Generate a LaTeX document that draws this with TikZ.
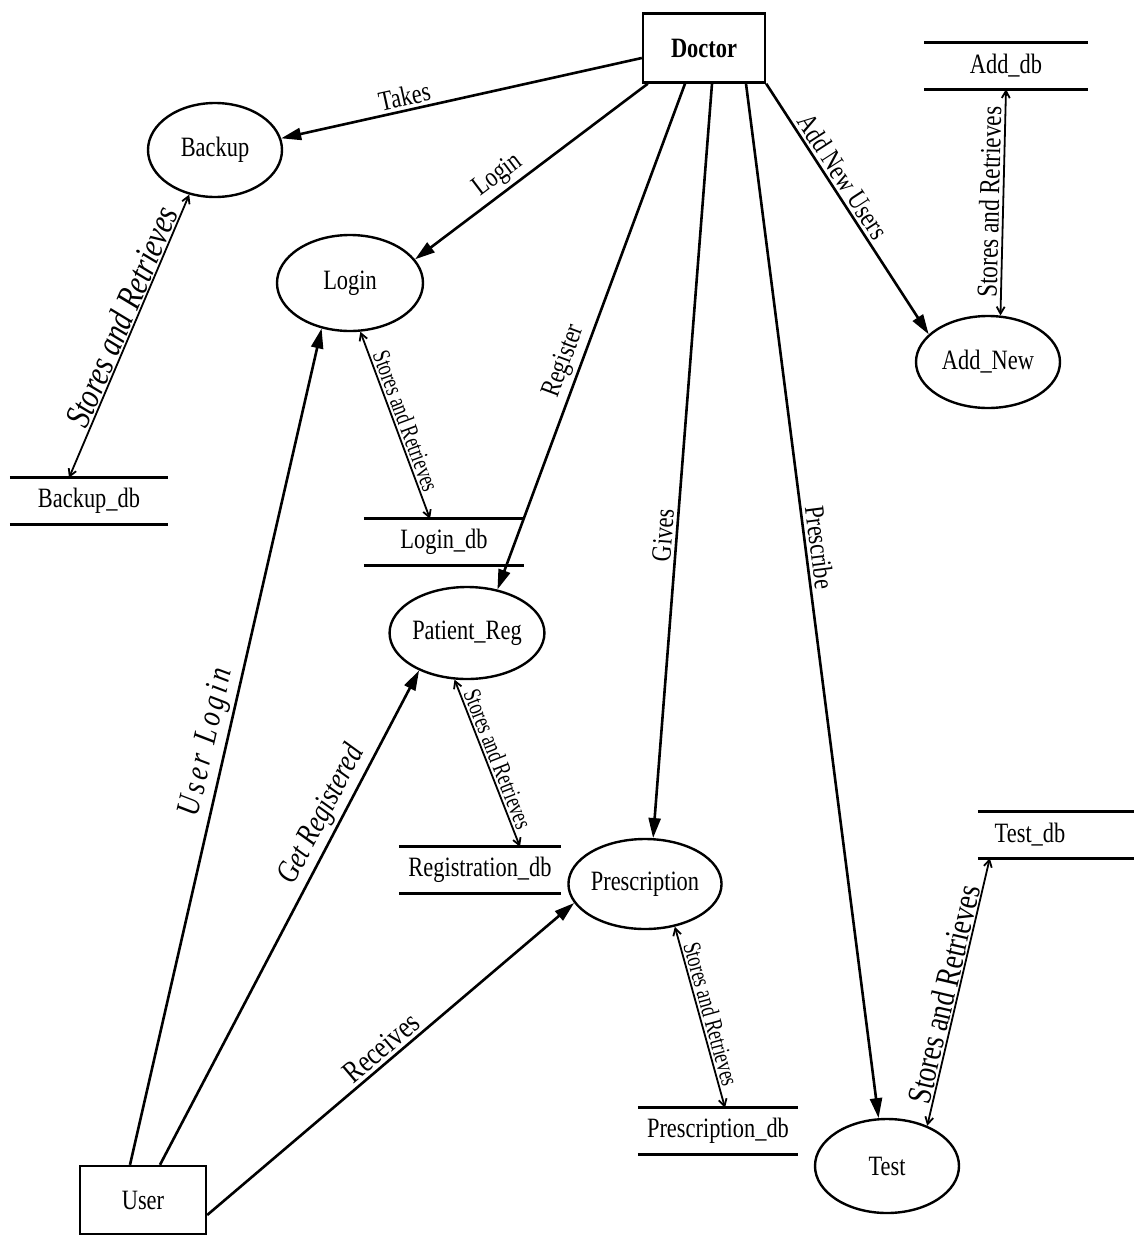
\documentclass[tikz,border=0pt]{standalone}
\usepackage{fontspec}
\setmainfont{Liberation Serif}[FakeStretch=0.8]
\newfontfamily\condfont{Liberation Serif}[FakeStretch=0.72]
\usetikzlibrary{shapes.geometric,arrows.meta}
\begin{document}
\begin{tikzpicture}[x=1pt,y=-1pt,
  proc/.style={ellipse,draw,line width=2.4pt,inner sep=0pt,font=\fontsize{28}{32}\selectfont},
  ent/.style={rectangle,draw,line width=2.4pt,inner sep=0pt,font=\fontsize{28}{32}\selectfont},
  store/.style={inner sep=0pt,minimum height=46pt,font=\fontsize{28}{32}\selectfont},
  dbline/.style={line width=2.8pt},
  flow/.style={line width=2.6pt,-{Triangle[length=20pt,width=12pt]}},
  sr/.style={line width=1.8pt,{Straight Barb[length=7pt,width=8pt]}-{Straight Barb[length=7pt,width=8pt]}},
  lbl/.style={sloped,above,inner sep=3pt,font=\fontsize{28}{32}\selectfont},
  srsmall/.style={sloped,above,inner sep=2pt,font=\condfont\fontsize{25}{28}\selectfont}
]
\useasboundingbox (0,0) rectangle (1134,1237);
\fill[white] (0,0) rectangle (1134,1237);

% entities
\node[ent,minimum width=122pt,minimum height=69pt,font=\fontsize{28}{32}\selectfont\bfseries] (doc) at (704,48) {Doctor};
\node[ent,minimum width=126pt,minimum height=68pt] (user) at (143,1200) {User};

% processes
\node[proc,minimum width=134pt,minimum height=94pt] (backup) at (215,150) {Backup};
\node[proc,minimum width=146pt,minimum height=96pt] (login) at (350,283) {Login};
\node[proc,minimum width=144pt,minimum height=92pt] (addnew) at (988,362) {Add\_New};
\node[proc,minimum width=146pt,minimum height=92pt] (preg) at (467,633) {Patient\_Reg};
\node[proc,minimum width=144pt,minimum height=90pt] (presc) at (645,884) {Prescription};
\node[proc,minimum width=144pt,minimum height=94pt] (test) at (887,1166) {Test};

% data stores
\node[store,minimum width=163pt] (adb) at (1006,66) {Add\_db};
\node[store,minimum width=158pt] (bdb) at (89,501) {Backup\_db};
\node[store,minimum width=160pt] (ldb) at (444,542) {Login\_db};
\node[store,minimum width=162pt] (rdb) at (480,870) {Registration\_db};
\node[store,minimum width=160pt] (pdb) at (718,1131) {Prescription\_db};
\node[store,minimum width=104pt] (tdb) at (1030,835) {Test\_db};

\foreach \s in {adb,bdb,ldb,rdb,pdb}{
  \draw[dbline] (\s.north west) -- (\s.north east) (\s.south west) -- (\s.south east);
}
\draw[dbline] (tdb.north west) -- ([xshift=60pt]tdb.north east) (tdb.south west) -- ([xshift=60pt]tdb.south east);

% flows from Doctor
\draw[flow] ([yshift=-10pt]doc.west) -- (backup.10) node[lbl,pos=0.65] {Takes};
\draw[flow] ([xshift=6pt]doc.south west) -- (login.20) node[lbl,pos=0.6] {Login};
\draw[flow] ([xshift=-19pt]doc.south) -- (preg.55) node[lbl,pos=0.56] {Register};
\draw[flow] ([xshift=8pt]doc.south) -- (presc.80) node[lbl,pos=0.6] {Gives};
\draw[flow] ([xshift=42pt]doc.south) -- (test.100) node[lbl,pos=0.45] {Prescribe};
\draw[flow] (doc.south east) -- (addnew.155) node[lbl,pos=0.4] {Add New Users};

% flows from User
\draw[flow] ([xshift=-13pt]user.north) -- (login.238) node[lbl,pos=0.5,font=\fontsize{33}{36}\selectfont\itshape\addfontfeature{LetterSpace=12}] {User Login};
\draw[flow] ([xshift=17pt]user.north) -- (preg.218) node[lbl,pos=0.69,font=\fontsize{32}{36}\selectfont\itshape] {Get Registered};
\draw[flow] ([yshift=-15pt]user.east) -- (presc.195) node[lbl,pos=0.5,font=\fontsize{31}{34}\selectfont] {Receives};

% stores and retrieves
\draw[sr] (adb.south) -- (addnew.75) node[lbl,pos=0.5,font=\fontsize{29}{32}\selectfont] {Stores and Retrieves};
\draw[sr] ([xshift=-20pt]bdb.north) -- (backup.240) node[lbl,pos=0.55,inner sep=1pt,font=\fontsize{36}{40}\selectfont\itshape] {Stores and Retrieves};
\draw[sr] ([xshift=-14pt]ldb.north) -- (login.282) node[srsmall,pos=0.5] {Stores and Retrieves};
\draw[sr] ([xshift=40pt]rdb.north) -- (preg.255) node[srsmall,pos=0.5] {Stores and Retrieves};
\draw[sr] ([xshift=7pt]pdb.north) -- (presc.305) node[srsmall,pos=0.5] {Stores and Retrieves};
\draw[sr] (test.45) -- ([xshift=12pt]tdb.south west) node[lbl,pos=0.48,inner sep=1pt,font=\fontsize{34}{38}\selectfont] {Stores and Retrieves};
\end{tikzpicture}
\end{document}
